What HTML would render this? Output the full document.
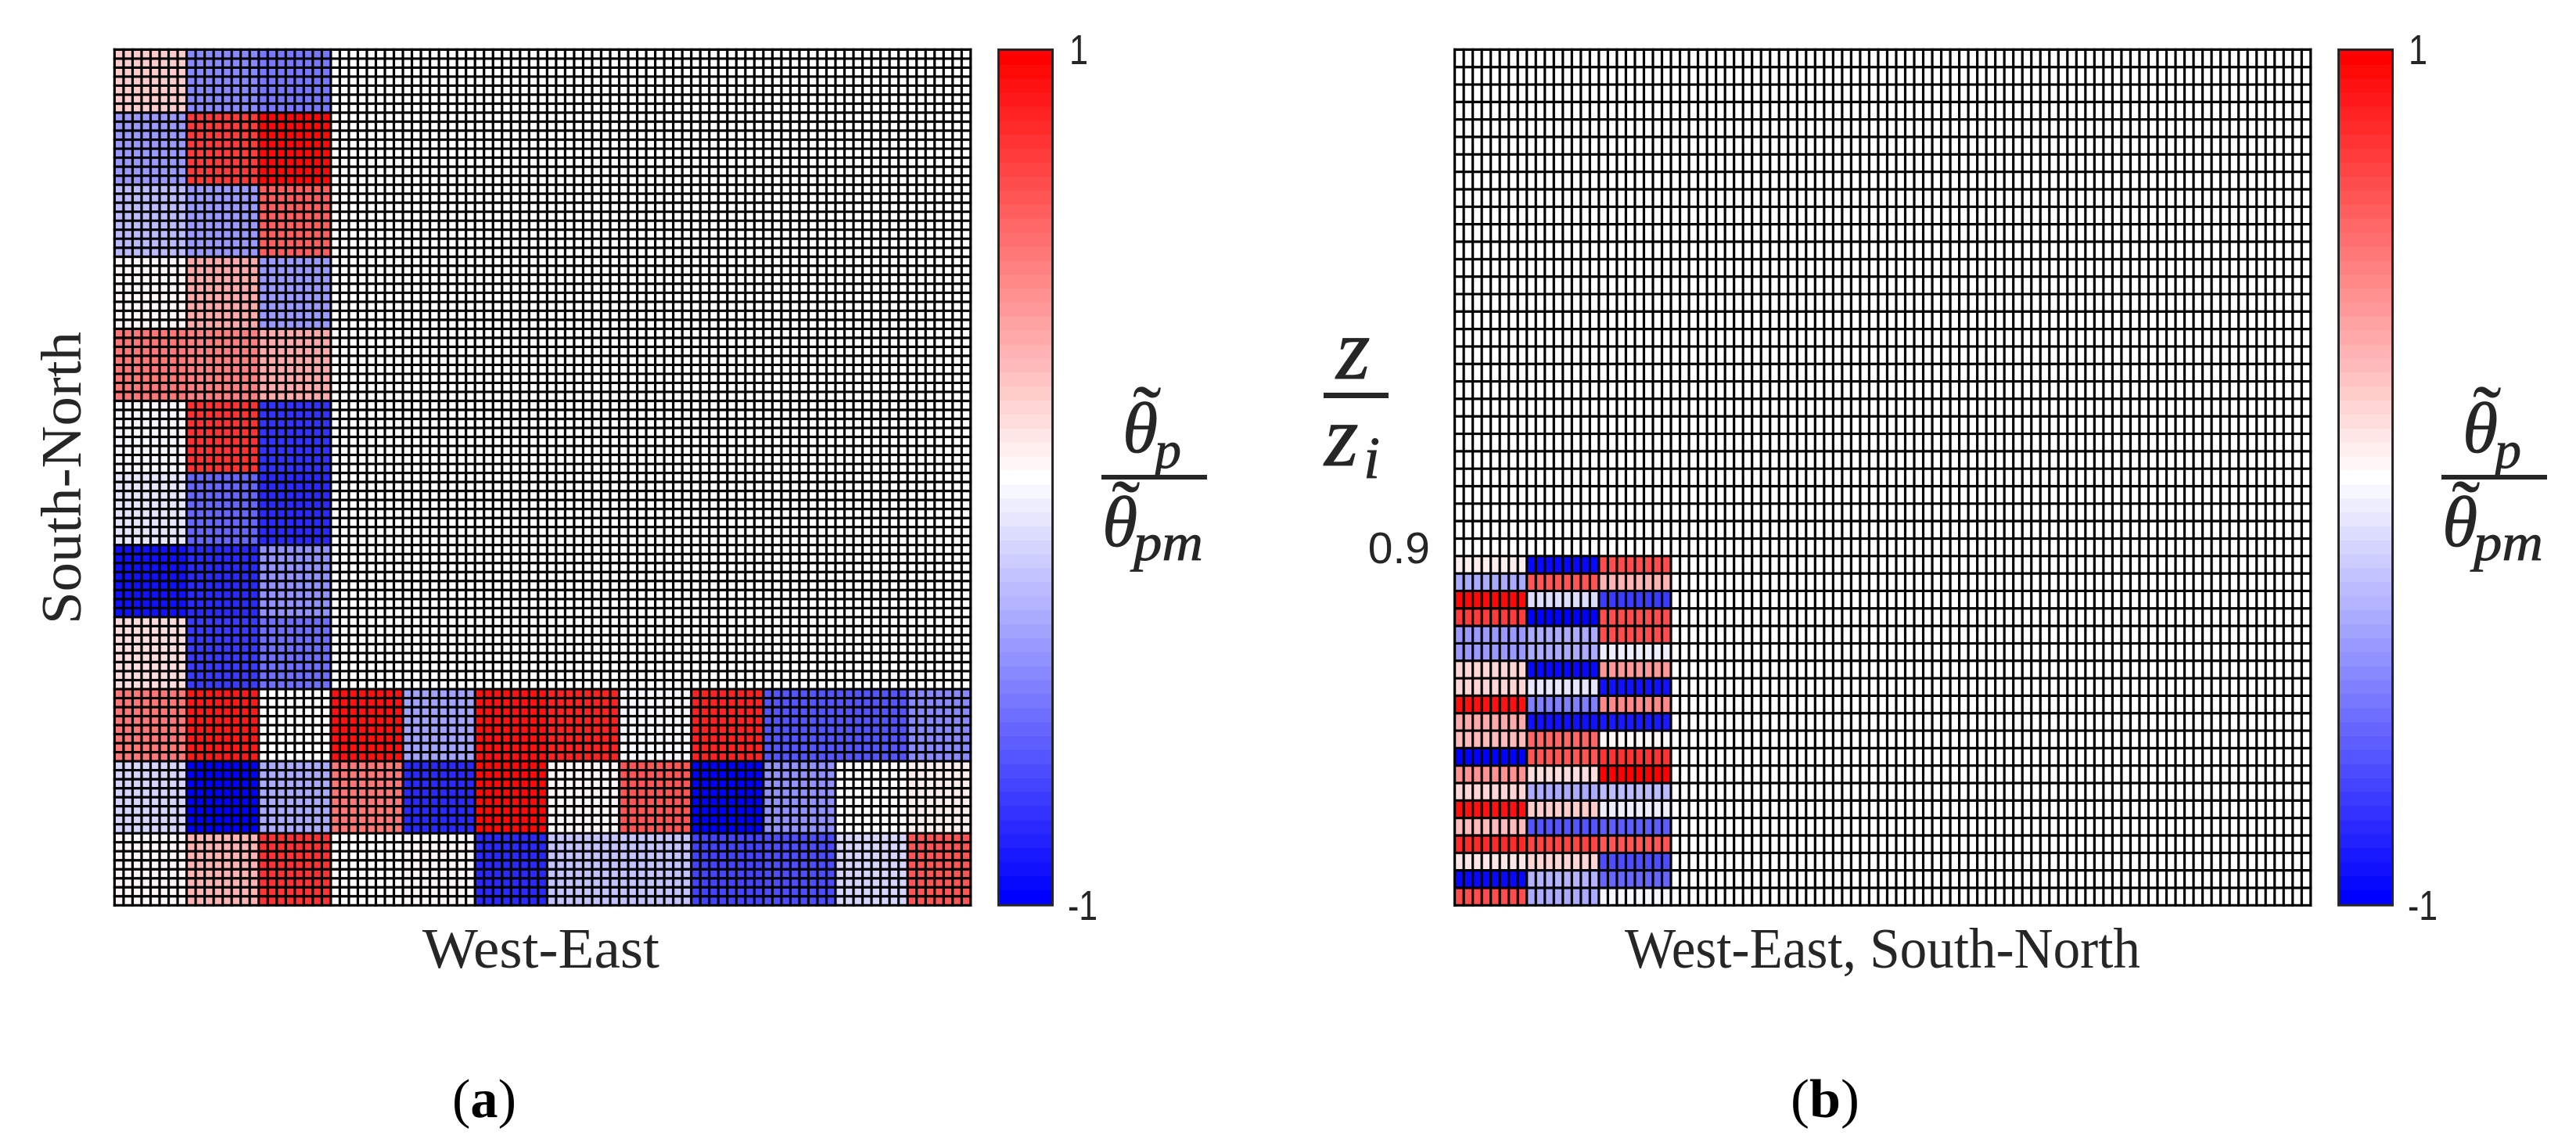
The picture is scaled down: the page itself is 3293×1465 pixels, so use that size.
<!DOCTYPE html>
<html lang="en">
<head>
<meta charset="utf-8">
<title>Heatmaps of normalized potential temperature perturbation</title>
<style>
html,body{margin:0;padding:0;background:#fff;}
svg{display:block;}
text{font-family:"Liberation Serif",serif;fill:#262626;}
.sans{font-family:"Liberation Sans",sans-serif;}
.ital{font-style:italic;stroke:#262626;stroke-width:0.8;}
</style>
</head>
<body>
<svg id="figure" xmlns="http://www.w3.org/2000/svg" width="3293" height="1465" viewBox="0 0 3293 1465">
  <rect x="0" y="0" width="3293" height="1465" fill="#fff"/>

  <g id="panel-a"></g>
  <g id="panel-b"></g>
  <g id="cbar-a"></g>
  <g id="cbar-b"></g>

  <text x="540" y="1237" font-size="73" textLength="303" lengthAdjust="spacingAndGlyphs">West-East</text>
  <text transform="translate(103,798) rotate(-90)" x="0" y="0" font-size="73" textLength="374" lengthAdjust="spacingAndGlyphs">South-North</text>
  <text x="2077" y="1237" font-size="73" textLength="659" lengthAdjust="spacingAndGlyphs">West-East, South-North</text>

  <text x="578" y="1428" font-size="70" textLength="82" lengthAdjust="spacingAndGlyphs" style="fill:#000">(<tspan font-weight="bold">a</tspan>)</text>
  <text x="2289" y="1428" font-size="70" textLength="88" lengthAdjust="spacingAndGlyphs" style="fill:#000">(<tspan font-weight="bold">b</tspan>)</text>

  <text class="sans" x="1828" y="720" font-size="57" text-anchor="end">0.9</text>

  <g>
    <text class="ital" x="1708" y="484" font-size="112">z</text>
    <rect x="1692" y="502" width="83" height="7" fill="#262626"/>
    <text class="ital" x="1693" y="595" font-size="112">z</text>
    <text class="ital" x="1743" y="611" font-size="76">i</text>
  </g>

  <g id="label-cbar-a">
    <text class="ital" x="1435" y="578" font-size="92">θ</text>
    <text x="1448" y="569" font-size="110">˜</text>
    <text class="ital" x="1476" y="598" font-size="68">p</text>
    <rect x="1408" y="607" width="135" height="6" fill="#262626"/>
    <text class="ital" x="1409" y="698" font-size="92">θ</text>
    <text x="1421" y="690" font-size="110">˜</text>
    <text class="ital" x="1449" y="716" font-size="68" textLength="89" lengthAdjust="spacingAndGlyphs">pm</text>
  </g>
  <g transform="translate(1713,0)">
    <text class="ital" x="1435" y="578" font-size="92">θ</text>
    <text x="1448" y="569" font-size="110">˜</text>
    <text class="ital" x="1476" y="598" font-size="68">p</text>
    <rect x="1408" y="607" width="135" height="6" fill="#262626"/>
    <text class="ital" x="1409" y="698" font-size="92">θ</text>
    <text x="1421" y="690" font-size="110">˜</text>
    <text class="ital" x="1449" y="716" font-size="68" textLength="89" lengthAdjust="spacingAndGlyphs">pm</text>
  </g>

  <text class="sans" x="1367" y="82" font-size="54" textLength="24" lengthAdjust="spacingAndGlyphs">1</text>
  <text class="sans" x="1365" y="1176" font-size="54" textLength="38" lengthAdjust="spacingAndGlyphs">-1</text>
  <text class="sans" x="3079" y="82" font-size="54" textLength="24" lengthAdjust="spacingAndGlyphs">1</text>
  <text class="sans" x="3078" y="1176" font-size="54" textLength="38" lengthAdjust="spacingAndGlyphs">-1</text>
</svg>

<script>
// Panel (a): block values, top row to bottom row, West to East
const aRow0 = [0.20,-0.47,-0.52,0,0,0,0,0,0,0,0,0];
const aRow1 = [-0.40,0.75,0.97,0,0,0,0,0,0,0,0,0];
const aRow2 = [-0.28,-0.40,0.62,0,0,0,0,0,0,0,0,0];
const aRow3 = [0.04,0.33,-0.40,0,0,0,0,0,0,0,0,0];
const aRow4 = [0.53,0.50,0.33,0,0,0,0,0,0,0,0,0];
const aRow5 = [-0.04,0.80,-0.81,0,0,0,0,0,0,0,0,0];
const aRow6 = [-0.11,-0.60,-0.85,0,0,0,0,0,0,0,0,0];
const aRow7 = [-0.93,-0.84,-0.44,0,0,0,0,0,0,0,0,0];
const aRow8 = [0.12,-0.76,-0.58,0,0,0,0,0,0,0,0,0];
const aRow9 = [0.53,0.91,0,0.92,-0.38,0.94,0.87,-0.04,0.87,-0.67,-0.67,-0.47];
const aRow10 = [-0.18,-1,-0.33,0.53,-0.83,0.96,0.04,0.67,-1,-0.44,0,0.07];
const aRow11 = [0.04,0.29,0.80,0,0.04,-0.84,-0.23,-0.23,-0.75,-0.69,-0.18,0.67];
const aValues = [aRow0,aRow1,aRow2,aRow3,aRow4,aRow5,aRow6,aRow7,aRow8,aRow9,aRow10,aRow11];

// Panel (b): the lowest 20 levels, top to bottom, three block columns
const bColumn0 = [0.06,-0.33,0.96,0.75,-0.39,-0.39,0.15,0.15,0.92,0.34,0.28,-1,0.43,0.17,0.92,0.25,0.83,0.09,-0.98,0.69];
const bColumn1 = [-0.97,0.67,-0.14,-1,-0.33,-0.33,-0.98,-0.11,-0.50,-0.95,0.60,0.67,0.13,-0.33,0.20,-0.67,0.73,0.15,-0.29,-0.33];
const bColumn2 = [0.70,0.29,-0.77,0.69,0.69,-0.07,0.40,-0.92,0.47,-0.90,0.04,0.81,1,-0.27,-0.06,-0.62,0.67,-0.70,-0.60,-0.04];
const bValues = [bColumn0,bColumn1,bColumn2];

const colorbarLevels = 61;
const fineCols = 95;
const aFineRows = 95;
const bFineRows = 49;
const fineCellsPerBlock = 8;

const SVGNS = 'http://www.w3.org/2000/svg';

function colormap(v) {
  const level = Math.round(v * 30) / 30;
  const c = Math.round(255 * (1 - Math.abs(level)));
  return level >= 0 ? 'rgb(255,' + c + ',' + c + ')' : 'rgb(' + c + ',' + c + ',255)';
}

function makeAxes(left, right, top, bottom, cols, rows) {
  return {
    x: function (i) { return left + (right - left) * i / cols; },
    y: function (j) { return top + (bottom - top) * j / rows; }
  };
}

function addCell(parent, axes, c0, c1, r0, r1, value) {
  const rect = document.createElementNS(SVGNS, 'rect');
  rect.setAttribute('x', axes.x(c0));
  rect.setAttribute('y', axes.y(r0));
  rect.setAttribute('width', axes.x(c1) - axes.x(c0));
  rect.setAttribute('height', axes.y(r1) - axes.y(r0));
  rect.setAttribute('fill', colormap(value));
  
  
  parent.appendChild(rect);
}

function addGrid(parent, axes, cols, rows) {
  const grid = document.createElementNS(SVGNS, 'g');
  
  
  grid.setAttribute('stroke', '#000');
  grid.setAttribute('stroke-width', '3.2');
  grid.setAttribute('stroke-linecap', 'square');
  for (let i = 0; i <= cols; i++) {
    const line = document.createElementNS(SVGNS, 'line');
    line.setAttribute('x1', axes.x(i));
    line.setAttribute('x2', axes.x(i));
    line.setAttribute('y1', axes.y(0));
    line.setAttribute('y2', axes.y(rows));
    
    
    grid.appendChild(line);
  }
  for (let j = 0; j <= rows; j++) {
    const line = document.createElementNS(SVGNS, 'line');
    line.setAttribute('x1', axes.x(0));
    line.setAttribute('x2', axes.x(cols));
    line.setAttribute('y1', axes.y(j));
    line.setAttribute('y2', axes.y(j));
    
    
    grid.appendChild(line);
  }
  parent.appendChild(grid);
}

function addColorbar(parent, left, top, right, bottom) {
  const step = (bottom - top) / colorbarLevels;
  for (let k = 0; k < colorbarLevels; k++) {
    const v = 1 - 2 * k / (colorbarLevels - 1);
    const band = document.createElementNS(SVGNS, 'rect');
    band.setAttribute('x', left);
    band.setAttribute('y', top + k * step);
    band.setAttribute('width', right - left);
    band.setAttribute('height', step + 0.5);
    band.setAttribute('fill', colormap(v));
    
    
    parent.appendChild(band);
  }
  const frame = document.createElementNS(SVGNS, 'rect');
  frame.setAttribute('x', left - 1.5);
  frame.setAttribute('y', top - 1.5);
  frame.setAttribute('width', right - left + 3);
  frame.setAttribute('height', bottom - top + 3);
  frame.setAttribute('fill', 'none');
  frame.setAttribute('stroke', '#262626');
  frame.setAttribute('stroke-width', '3');
  
  
  parent.appendChild(frame);
}

// Panel (a)
const panelA = document.getElementById('panel-a');
const axesA = makeAxes(146.4, 1240.8, 63.4, 1157.3, fineCols, aFineRows);
aValues.forEach(function (row, r) {
  const r0 = Math.max(0, r * fineCellsPerBlock - 1);
  const r1 = (r + 1) * fineCellsPerBlock - 1;
  row.forEach(function (value, c) {
    const c0 = c * fineCellsPerBlock;
    const c1 = Math.min(fineCols, (c + 1) * fineCellsPerBlock);
    addCell(panelA, axesA, c0, c1, r0, r1, value);
  });
});
addGrid(panelA, axesA, fineCols, aFineRows);

// Panel (b)
const panelB = document.getElementById('panel-b');
const axesB = makeAxes(1859.6, 2953.8, 63.4, 1157.3, fineCols, bFineRows);
bValues.forEach(function (column, c) {
  const firstRow = bFineRows - column.length;
  column.forEach(function (value, r) {
    addCell(panelB, axesB, c * fineCellsPerBlock, (c + 1) * fineCellsPerBlock, firstRow + r, firstRow + r + 1, value);
  });
});
addGrid(panelB, axesB, fineCols, bFineRows);

// Colorbars
addColorbar(document.getElementById('cbar-a'), 1278, 65, 1344, 1155.7);
addColorbar(document.getElementById('cbar-b'), 2991, 65, 3057, 1155.7);
</script>
</body>
</html>
